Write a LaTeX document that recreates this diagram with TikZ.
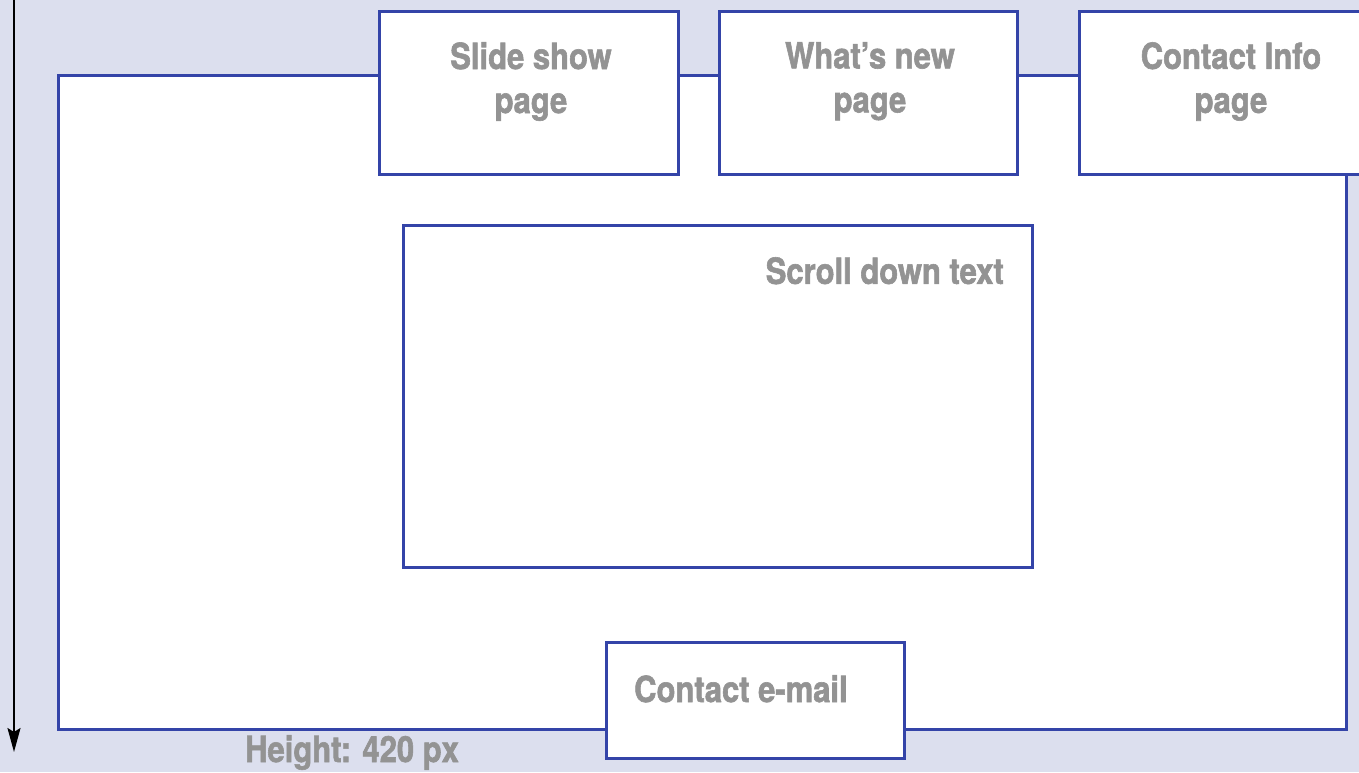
\documentclass[tikz,border=0pt]{standalone}
\usepackage{fontspec}
\setmainfont{TeX Gyre Heros}[FakeStretch=0.86, BoldFeatures={FakeBold=1.6}]
\usetikzlibrary{arrows.meta}
\definecolor{bg}{RGB}{220,223,238}
\definecolor{frame}{RGB}{52,68,168}
\definecolor{txt}{RGB}{147,147,147}
\begin{document}
\begin{tikzpicture}[x=1pt,y=-1pt,
  box/.style={draw=frame, fill=white, line width=2.5pt, inner sep=0pt, anchor=north west},
  lbl/.style={text=txt, font=\fontsize{36}{44}\selectfont\bfseries, inner sep=0pt, align=center}]
\useasboundingbox (0,0) rectangle (1359,772);
\clip (0,0) rectangle (1359,772);
\fill[bg] (0,0) rectangle (1359,772);
% height arrow
\coordinate (atop) at (14,-2);
\coordinate (abot) at (14,752);
\draw[line width=2pt, -{Stealth[length=24pt,width=13pt,inset=4pt]}] (atop) -- (abot);
% main page
\node[box, minimum width=1288pt, minimum height=654pt] (main) at (57,74) {};
% top tabs
\node[box, minimum width=299pt, minimum height=163pt] (slide) at (378,10) {};
\node[box, minimum width=298pt, minimum height=163pt] (news) at (718,10) {};
\node[box, minimum width=306pt, minimum height=163pt] (info) at (1078,10) {};
% scroll area
\node[box, minimum width=629pt, minimum height=342pt] (scroll) at (402,224) {};
% contact email
\node[box, minimum width=298pt, minimum height=116pt] (email) at (605,641) {};
% labels
\node[lbl, anchor=north] (tslide) at (531,42) {Slide show\\page};
\node[lbl, anchor=north] (tnews) at (870,42) {What’s new\\page};
\node[lbl, anchor=north] (tinfo) at (1231,42) {Contact Info\\page};
\node[lbl, anchor=north east] (tscroll) at (1004,257) {Scroll down text};
\node[lbl, anchor=north west] (temail) at (634,675) {Contact e-mail};
\node[lbl, anchor=north west] (theight) at (245,735) {Height: 420 px};
\end{tikzpicture}
\end{document}
